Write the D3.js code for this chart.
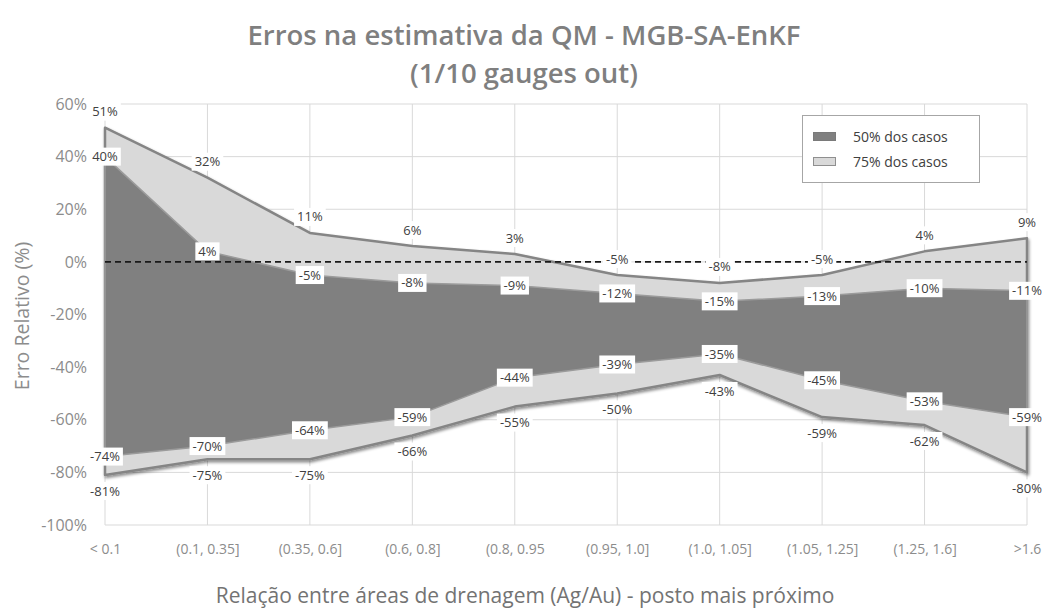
<!DOCTYPE html>
<html>
<head>
<meta charset="utf-8">
<script src="https://cdn.jsdelivr.net/npm/d3@7"></script>
<style>
  html, body { margin: 0; padding: 0; background: #fff; }
  svg { display: block; }
</style>
</head>
<body>
<svg id="chart" width="1049" height="612"></svg>
<script>
// Drainage-area ratio classes (x axis)
const categories = ["< 0.1", "(0.1, 0.35]", "(0.35, 0.6]", "(0.6, 0.8]", "(0.8, 0.95",
                    "(0.95, 1.0]", "(1.0, 1.05]", "(1.05, 1.25]", "(1.25, 1.6]", ">1.6"];
// Relative error bounds (%) for 75% and 50% of cases
const upper75 = [51, 32, 11, 6, 3, -5, -8, -5, 4, 9];
const upper50 = [40, 4, -5, -8, -9, -12, -15, -13, -10, -11];
const lower50 = [-74, -70, -64, -59, -44, -39, -35, -45, -53, -59];
const lower75 = [-81, -75, -75, -66, -55, -50, -43, -59, -62, -80];
const yTicks = [60, 40, 20, 0, -20, -40, -60, -80, -100];
const legendItems = [
  { label: "50% dos casos", key: "dark" },
  { label: "75% dos casos", key: "light" }
];

const FONT = "'Open Sans', 'Noto Sans', sans-serif";
const colors = { dark: "#808080", light: "#d9d9d9" };

const svg = d3.select("#chart");
const x = d3.scalePoint().domain(categories).range([105, 1027]);
const y = d3.scaleLinear().domain([-100, 60]).range([525, 104]);

// shadow filter for the band edges
const defs = svg.append("defs");
const f = defs.append("filter").attr("id", "shadow")
  .attr("x", "-5%").attr("y", "-10%").attr("width", "110%").attr("height", "130%");
f.append("feDropShadow").attr("dx", 1).attr("dy", 2).attr("stdDeviation", 1.4)
  .attr("flood-color", "#000").attr("flood-opacity", 0.45);

// gridlines
const grid = svg.append("g");
grid.selectAll("line.h").data(yTicks).join("line")
  .attr("x1", 105).attr("x2", 1027)
  .attr("y1", d => y(d)).attr("y2", d => y(d))
  .attr("stroke", "#d9d9d9").attr("stroke-width", 1);
grid.selectAll("line.v").data(categories).join("line")
  .attr("x1", d => x(d)).attr("x2", d => x(d))
  .attr("y1", y(60)).attr("y2", y(-100))
  .attr("stroke", "#d9d9d9").attr("stroke-width", 1);

// y axis
const yAxis = svg.append("g").attr("transform", "translate(105,0)")
  .call(d3.axisLeft(y).tickValues(yTicks).tickFormat(d => d + "%").tickSize(0).tickPadding(18));
yAxis.select(".domain").remove();
yAxis.selectAll("text").attr("font-family", FONT).attr("font-size", 16).attr("fill", "#8c8c8c");

// x axis
const xAxis = svg.append("g").attr("transform", "translate(0,525)")
  .call(d3.axisBottom(x).tickSize(0).tickPadding(19));
xAxis.select(".domain").remove();
xAxis.selectAll("text").attr("font-family", FONT).attr("font-size", 14).attr("fill", "#8c8c8c");

const idx = d3.range(categories.length);
const areaOf = (top, bottom) => d3.area()
  .x(i => x(categories[i])).y0(i => y(bottom[i])).y1(i => y(top[i]));

// 75% band
svg.append("path").datum(idx)
  .attr("d", areaOf(upper75, lower75))
  .attr("fill", colors.light).attr("stroke", "#858585").attr("stroke-width", 2.5)
  .attr("stroke-linejoin", "round").attr("filter", "url(#shadow)");

// 50% band
svg.append("path").datum(idx)
  .attr("d", areaOf(upper50, lower50))
  .attr("fill", colors.dark).attr("stroke", "#9b9b9b").attr("stroke-width", 1.5)
  .attr("stroke-linejoin", "round");

// zero reference line
svg.append("line")
  .attr("x1", 105).attr("x2", 1027).attr("y1", y(0)).attr("y2", y(0))
  .attr("stroke", "#1a1a1a").attr("stroke-width", 1.6).attr("stroke-dasharray", "6,4");

// data labels
const labelSets = [
  { values: upper75, dy: -16 },
  { values: upper50, dy: 0 },
  { values: lower50, dy: 0 },
  { values: lower75, dy: 16 }
];
const labels = svg.append("g");
labelSets.forEach(set => {
  set.values.forEach((v, i) => {
    const g = labels.append("g")
      .attr("transform", `translate(${x(categories[i])},${y(v) + set.dy})`);
    const t = g.append("text").text(v + "%")
      .attr("font-family", FONT).attr("font-size", 13).attr("fill", "#404040")
      .attr("text-anchor", "middle").attr("dy", "0.35em");
    const w = t.node().getComputedTextLength();
    g.insert("rect", "text")
      .attr("x", -w / 2 - 3).attr("y", -9).attr("width", w + 6).attr("height", 18)
      .attr("fill", "#fff");
  });
});

// legend
const lg = svg.append("g");
lg.append("rect").attr("x", 802.5).attr("y", 115.5).attr("width", 177).attr("height", 67)
  .attr("fill", "#fff").attr("stroke", "#a6a6a6").attr("stroke-width", 1);
legendItems.forEach((d, i) => {
  const yy = 137 + i * 25;
  lg.append("rect").attr("x", 813.5).attr("y", yy - 4.5).attr("width", 22).attr("height", 8)
    .attr("fill", colors[d.key]).attr("stroke", d.key === "dark" ? "#7a7a7a" : "#8f8f8f").attr("stroke-width", 1);
  lg.append("text").attr("x", 853).attr("y", yy).attr("dy", "0.35em")
    .attr("font-family", FONT).attr("font-size", 14).attr("fill", "#404040").text(d.label);
});

// titles
svg.append("text").attr("x", 524).attr("y", 45).attr("text-anchor", "middle")
  .attr("font-family", FONT).attr("font-weight", 600).attr("font-size", 27.5).attr("fill", "#7f7f7f")
  .text("Erros na estimativa da QM - MGB-SA-EnKF");
svg.append("text").attr("x", 524).attr("y", 83).attr("text-anchor", "middle")
  .attr("font-family", FONT).attr("font-weight", 600).attr("font-size", 27.5).attr("fill", "#7f7f7f")
  .text("(1/10 gauges out)");

svg.append("text").attr("transform", "translate(29,316) rotate(-90)").attr("text-anchor", "middle")
  .attr("font-family", FONT).attr("font-size", 19.5).attr("fill", "#8c8c8c")
  .text("Erro Relativo (%)");

svg.append("text").attr("x", 525).attr("y", 603).attr("text-anchor", "middle")
  .attr("font-family", FONT).attr("font-size", 21).attr("fill", "#737373")
  .text("Relação entre áreas de drenagem (Ag/Au) - posto mais próximo");
</script>
</body>
</html>
